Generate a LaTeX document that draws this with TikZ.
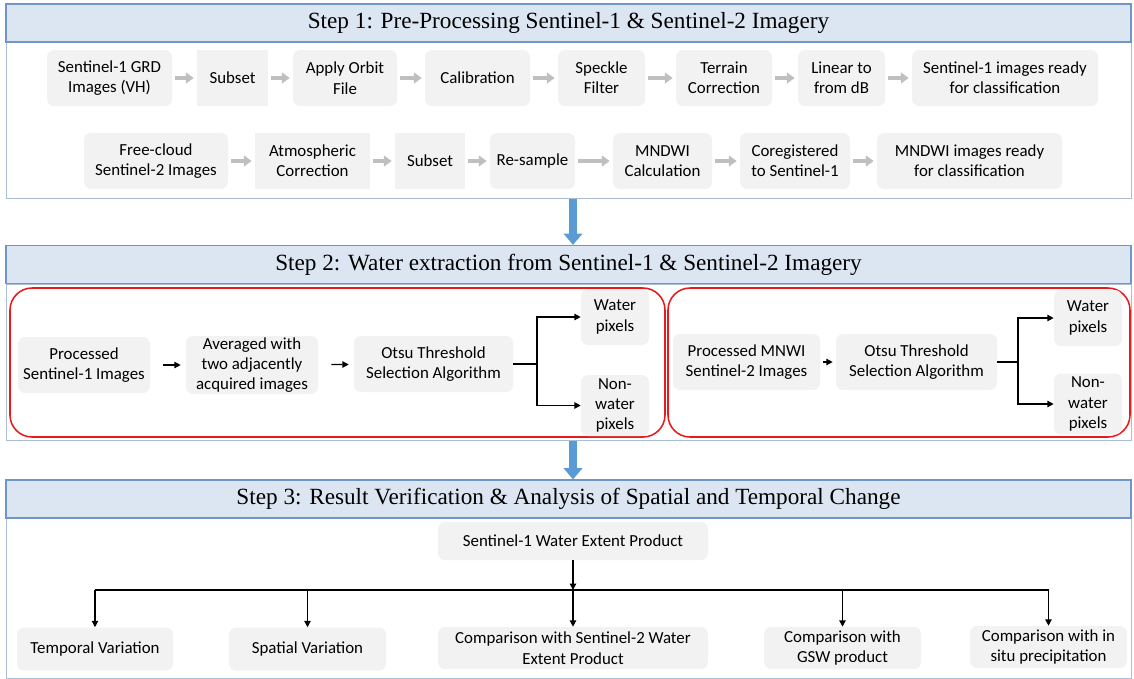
\documentclass[tikz,border=0pt]{standalone}
\usepackage{fontspec}
\setmainfont{Liberation Serif}
\newfontfamily\boxfont{Carlito}
\usetikzlibrary{arrows.meta}
\usetikzlibrary{positioning}
\newdimen\px
\px=0.025cm
\definecolor{boxgray}{RGB}{242,242,242}
\definecolor{hdrfill}{RGB}{220,230,242}
\definecolor{hdrline}{RGB}{110,150,200}
\definecolor{bodyline}{RGB}{170,190,215}
\definecolor{flowgray}{RGB}{191,191,191}
\definecolor{stepblue}{RGB}{91,155,213}
\definecolor{loopred}{RGB}{235,25,25}
\tikzset{box/.style = {fill=boxgray, rounded corners=7\px, align=center,
                       minimum width=#1\px, minimum height=56\px, inner sep=0pt,
                       font=\boxfont\fontsize{12}{14.5}\selectfont}}
\tikzset{sqbox/.style = {box=#1, sharp corners}}
\tikzset{header/.style = {draw=hdrline, fill=hdrfill, line width=1.2\px,
                          minimum width=1125\px, minimum height=38\px, inner sep=0pt,
                          font=\fontsize{16.5}{18}\selectfont}}
\tikzset{panel/.style = {draw=bodyline, line width=1\px, minimum width=1125\px,
                         minimum height=#1\px, inner sep=0pt}}
\tikzset{flow/.style = {draw=flowgray, line width=2.8pt,
                        -{Triangle[length=5.5pt, width=7.5pt]}, shorten <=3\px, shorten >=3\px}}
\tikzset{link/.style = {draw=black, line width=0.9pt, -{Triangle[length=4.5pt, width=4.5pt]}}}
\tikzset{bar/.style = {draw=black, line width=0.9pt}}
\tikzset{stepflow/.style = {draw=stepblue, line width=5.5pt,
                            -{Triangle[length=8pt, width=13pt]}}}
\tikzset{group/.style = {draw=loopred, line width=1.1pt, rounded corners=22\px, inner sep=0pt}}

\begin{document}
\begin{tikzpicture}[x=1\px, y=-1\px]
  \useasboundingbox (0,0) rectangle (1134,679);

  % step 1
  \node [panel=156] (p1) at (568.5,120) {};
  \node [header] (h1) at (568.5,23) {Step 1: Pre-Processing Sentinel-1 \& Sentinel-2 Imagery};

  \node [box=125] (s1grd) at (109.5,78) {Sentinel-1 GRD\\Images (VH)};
  \node [sqbox=71] (subset1) at (232.5,78) {Subset};
  \node [box=104] (orbit) at (345,78) {Apply Orbit\\File};
  \node [box=105] (calib) at (477.5,78) {Calibration};
  \node [box=87] (speckle) at (601.5,78) {Speckle\\Filter};
  \node [box=96] (terrain) at (724,78) {Terrain\\Correction};
  \node [box=87] (todb) at (841.5,78) {Linear to\\from dB};
  \node [box=186] (s1ready) at (1005,78) {Sentinel-1 images ready\\for classification};

  \draw [flow] (s1grd) -- (subset1);
  \draw [flow] (subset1) -- (orbit);
  \draw [flow] (orbit) -- (calib);
  \draw [flow] (calib) -- (speckle);
  \draw [flow] (speckle) -- (terrain);
  \draw [flow] (terrain) -- (todb);
  \draw [flow] (todb) -- (s1ready);

  \node [box=144] (s2img) at (156,161) {Free-cloud\\Sentinel-2 Images};
  \node [sqbox=115] (atmos) at (312.5,161) {Atmospheric\\Correction};
  \node [sqbox=70] (subset2) at (430,161) {Subset};
  \node [box=85] (resample) at (532.5,161) {Re-sample};
  \node [box=99] (mndwi) at (662.5,161) {MNDWI\\Calculation};
  \node [box=110] (coreg) at (795,161) {Coregistered\\to Sentinel-1};
  \node [box=185] (s2ready) at (969.5,161) {MNDWI images ready\\for classification};

  \draw [flow] (s2img) -- (atmos);
  \draw [flow] (atmos) -- (subset2);
  \draw [flow] (subset2) -- (resample);
  \draw [flow] (resample) -- (mndwi);
  \draw [flow] (mndwi) -- (coreg);
  \draw [flow] (coreg) -- (s2ready);

  % step 2
  \node [panel=156] (p2) at (568.5,362) {};
  \node [header] (h2) at (568.5,264.5) {Step 2: Water extraction from Sentinel-1 \& Sentinel-2 Imagery};

  \node [group, minimum width=655\px, minimum height=149\px] (s1grp) at (337.5,362.5) {};
  \node [group, minimum width=462\px, minimum height=149\px] (s2grp) at (899,362.5) {};

  \node [box=132] (s1proc) at (84,365) {Processed\\Sentinel-1 Images};
  \node [box=132, minimum height=58\px] (avg) at (252,365) {Averaged with\\two adjacently\\acquired images};
  \node [box=159] (otsu1) at (433.5,364) {Otsu Threshold\\Selection Algorithm};
  \node [box=68] (water1) at (615,317) {Water\\pixels};
  \node [box=68, minimum height=61\px] (nonwater1) at (615,405.5) {Non-\\water\\pixels};
  \coordinate (fork1) at (537,364);

  \draw [link, shorten <=13\px, shorten >=5\px] (s1proc) -- (avg);
  \draw [link, shorten <=13\px, shorten >=5\px] (avg) -- (otsu1);
  \draw [bar] (otsu1) -- (fork1);
  \draw [link] (fork1) |- (water1);
  \draw [link] (fork1) |- (nonwater1);

  \node [box=147] (s2proc) at (746.5,362) {Processed MNWI\\Sentinel-2 Images};
  \node [box=161] (otsu2) at (916.5,362) {Otsu Threshold\\Selection Algorithm};
  \node [box=68] (water2) at (1088,318) {Water\\pixels};
  \node [box=68, minimum height=61\px] (nonwater2) at (1088,404) {Non-\\water\\pixels};
  \coordinate (fork2) at (1018,362);

  \draw [link, shorten <=3\px, shorten >=3\px] (s2proc) -- (otsu2);
  \draw [bar] (otsu2) -- (fork2);
  \draw [link] (fork2) |- (water2);
  \draw [link] (fork2) |- (nonwater2);

  % step 3
  \node [panel=160] (p3) at (568.5,598) {};
  \node [header] (h3) at (568.5,499) {Step 3: Result Verification \& Analysis of Spatial and Temporal Change};

  \node [box=270, minimum height=38\px] (wep) at (573,541) {Sentinel-1 Water Extent Product};
  \coordinate (bus) at (573,590);

  \node [box=156, minimum height=43\px] (temporal) at (95,649) {Temporal Variation};
  \node [box=157, minimum height=43\px] (spatial) at (307.5,649) {Spatial Variation};
  \node [box=270, minimum height=42\px] (cmps2) at (573,648) {Comparison with Sentinel-2 Water\\Extent Product};
  \node [box=157, minimum height=42\px] (cmpgsw) at (842.5,648) {Comparison with\\GSW product};
  \node [box=157, minimum height=42\px] (cmprain) at (1048.5,647) {Comparison with in\\situ precipitation};

  \draw [link] (wep) -- (bus);
  \draw [bar] (bus -| temporal) -- (bus -| cmprain);
  \draw [link] (bus -| temporal) -- (temporal);
  \draw [link] (bus -| spatial) -- (spatial);
  \draw [link] (bus) -- (cmps2);
  \draw [link] (bus -| cmpgsw) -- (cmpgsw);
  \draw [link] (bus -| cmprain) -- (cmprain);

  % big arrows between the steps
  \draw [stepflow] (p1.south -| wep) -- (h2.north -| wep);
  \draw [stepflow] (p2.south -| wep) -- (h3.north -| wep);
\end{tikzpicture}
\end{document}
